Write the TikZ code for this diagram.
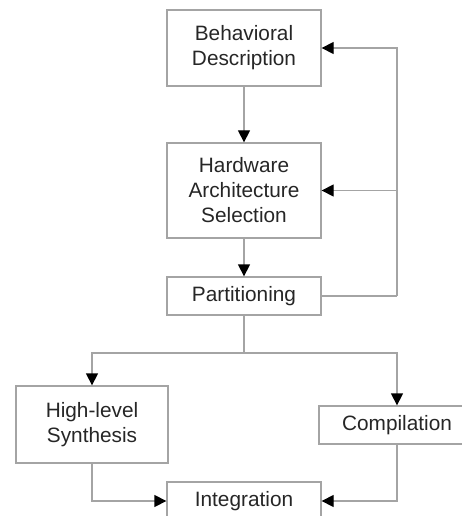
\documentclass[tikz,border=0pt]{standalone}
\usepackage{fontspec}
\setmainfont{Liberation Sans}
\usetikzlibrary{arrows.meta}
\definecolor{linegray}{HTML}{A4A4A4}
\begin{document}
\begin{tikzpicture}[x=1bp,y=-1bp,
  box/.style={draw=linegray,line width=1.3bp,rectangle,inner sep=0pt,
    align=center,font=\fontsize{20.8bp}{25bp}\selectfont,text=black!85},
  link/.style={draw=linegray,line width=1.3bp},
  flow/.style={link,-{Triangle[length=12bp,width=12bp,fill=black,color=black]}}]
\useasboundingbox (0,0) rectangle (462,516);
\begin{scope}
\clip (0,0) rectangle (462,516);
\node[box,minimum width=154bp,minimum height=76bp] (beh) at (244,48) {Behavioral\\Description};
\node[box,minimum width=154bp,minimum height=95bp] (hw) at (244,190.5) {Hardware\\Architecture\\Selection};
\node[box,minimum width=154bp,minimum height=38bp] (part) at (244,296) {Partitioning};
\node[box,minimum width=152bp,minimum height=77bp] (hls) at (92,424.5) {High-level\\Synthesis};
\node[box,minimum width=156bp,minimum height=38bp] (comp) at (397,425) {Compilation};
\node[box,minimum width=154bp,minimum height=38bp] (integ) at (244,501) {Integration};

\coordinate (loop) at (397,296);
\coordinate (split) at (244,353);

\draw[flow] (beh) -- (hw);
\draw[flow] (hw) -- (part);
\draw[link] (part.east) -- (loop);
\draw[flow] (loop) |- (beh.east);
\draw[flow] (loop |- hw.east) -- (hw.east);
\draw[link] (part.south) -- (split);
\draw[flow] (split) -| (hls.north);
\draw[flow] (split) -| (comp.north);
\draw[flow] (hls.south) |- (integ.west);
\draw[flow] (comp.south) |- (integ.east);
\end{scope}
\end{tikzpicture}
\end{document}
